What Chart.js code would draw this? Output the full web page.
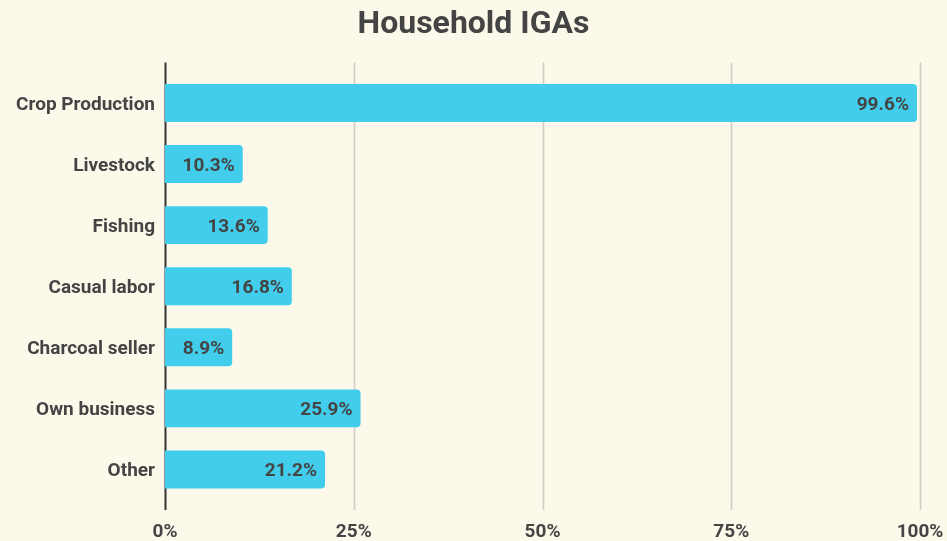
<!DOCTYPE html>
<html>
<head>
<meta charset="utf-8">
<script src="https://cdn.jsdelivr.net/npm/chart.js@4.4.1/dist/chart.umd.min.js"></script>
<style>
  html, body { margin: 0; padding: 0; background: #fcf9ea; }
  #wrap { width: 947px; height: 541px; }
</style>
</head>
<body>
<div id="wrap"><canvas id="chart" width="947" height="541"></canvas></div>
<script>
// данные графика
const categories = ['Crop Production', 'Livestock', 'Fishing', 'Casual labor', 'Charcoal seller', 'Own business', 'Other'];
const shares = [99.6, 10.3, 13.6, 16.8, 8.9, 25.9, 21.2];
const xTicks = [0, 25, 50, 75, 100];

const textColor = '#444444';
const fontFamily = 'Roboto, "Noto Sans", sans-serif';

// фон
const bgPlugin = {
  id: 'bgPlugin',
  beforeDraw(chart) {
    const { ctx, width, height } = chart;
    ctx.save();
    ctx.fillStyle = '#fcf9ea';
    ctx.fillRect(0, 0, width, height);
    ctx.restore();
  },
};

// сетка чуть длиннее области графика
const gridPlugin = {
  id: 'gridPlugin',
  beforeDatasetsDraw(chart) {
    const { ctx, chartArea: { top, bottom }, scales: { x } } = chart;
    ctx.save();
    xTicks.forEach((v) => {
      const px = Math.round(x.getPixelForValue(v)) + 0.5;
      ctx.beginPath();
      ctx.strokeStyle = v === 0 ? '#333333' : '#cfcdc4';
      ctx.lineWidth = v === 0 ? 2 : 1.6;
      ctx.moveTo(px, top - 10);
      ctx.lineTo(px, bottom + 10);
      ctx.stroke();
    });
    ctx.restore();
  },
};

// подписи значений внутри столбцов
const valueLabels = {
  id: 'valueLabels',
  afterDatasetsDraw(chart) {
    const { ctx } = chart;
    const meta = chart.getDatasetMeta(0);
    ctx.save();
    ctx.font = `bold 19px ${fontFamily}`;
    ctx.fillStyle = textColor;
    ctx.textAlign = 'right';
    ctx.textBaseline = 'middle';
    meta.data.forEach((bar, i) => {
      ctx.fillText(shares[i].toFixed(1) + '%', bar.x - 8, bar.y + 2);
    });
    ctx.restore();
  },
};

new Chart(document.getElementById('chart'), {
  type: 'bar',
  data: {
    labels: categories,
    datasets: [{
      data: shares,
      backgroundColor: '#41cdeb',
      borderWidth: 0,
      borderRadius: 4,
      borderSkipped: 'start',
      categoryPercentage: 1,
      barPercentage: 0.62,
    }],
  },
  options: {
    indexAxis: 'y',
    responsive: false,
    animation: false,
    layout: { padding: { left: 0, right: 0, top: 0, bottom: 0 } },
    plugins: {
      legend: { display: false },
      tooltip: { enabled: false },
      title: {
        display: true,
        text: 'Household IGAs',
        color: textColor,
        font: { family: fontFamily, size: 32, weight: 'bold' },
        padding: { top: 6, bottom: 28 },
      },
    },
    scales: {
      x: {
        min: 0,
        max: 100,
        afterBuildTicks: (scale) => { scale.ticks = xTicks.map((v) => ({ value: v })); },
        afterFit: (scale) => {
          scale.height = 41;
          scale.paddingLeft = 0;
          scale.paddingRight = 27;
        },
        grid: { display: false, drawTicks: false },
        border: { display: false },
        ticks: {
          color: textColor,
          font: { family: fontFamily, size: 19, weight: 'bold' },
          padding: 21,
          maxRotation: 0,
          callback: (v) => v + '%',
        },
      },
      y: {
        afterFit: (scale) => { scale.width = 165; },
        grid: { display: false, drawTicks: false },
        border: { display: false },
        ticks: {
          color: textColor,
          font: { family: fontFamily, size: 19, weight: 'bold' },
          padding: 10,
          labelOffset: 2,
        },
      },
    },
  },
  plugins: [bgPlugin, gridPlugin, valueLabels],
});
</script>
</body>
</html>
